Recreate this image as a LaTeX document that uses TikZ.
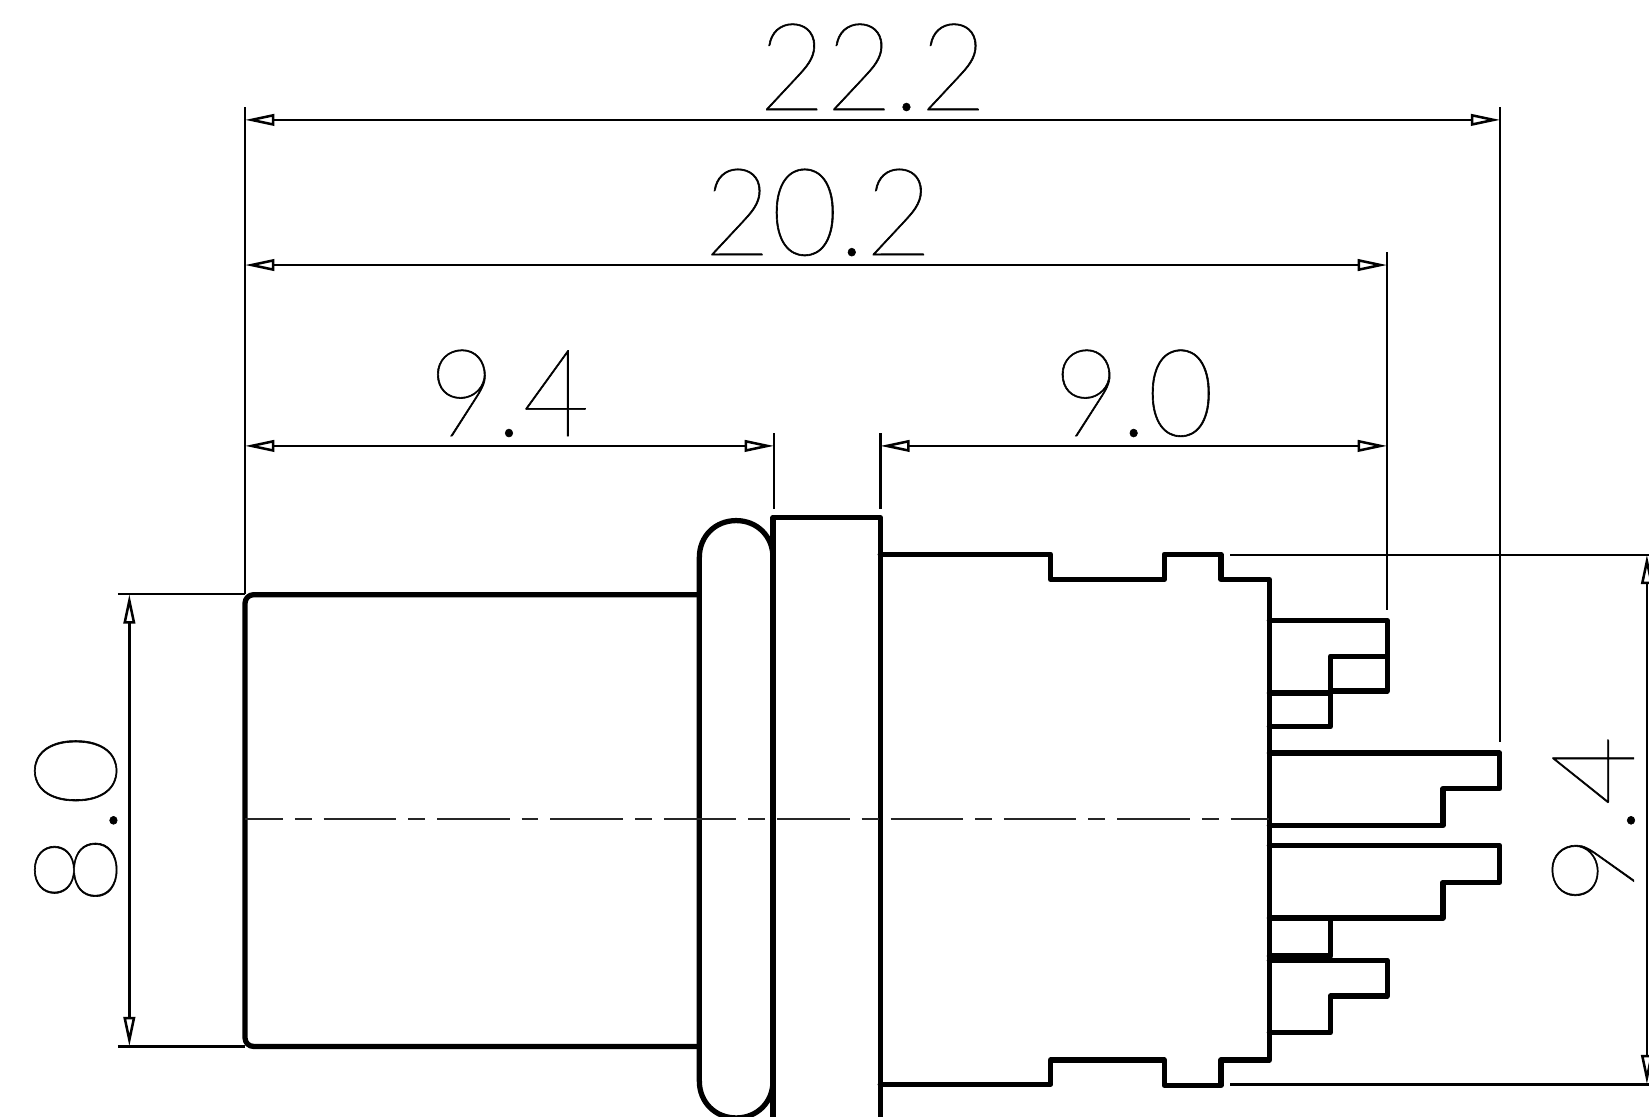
\documentclass[tikz,border=0pt]{standalone}
\usepackage{fontspec}
\setmainfont{Lato}[UprightFont=* Hairline,UprightFeatures={FakeBold=0.5}]
\usetikzlibrary{arrows.meta}
\tikzset{
  part/.style={line width=5pt,line join=round,line cap=round},
  thinln/.style={line width=2.4pt},
  center line/.style={line width=1.7pt,black!85,dash pattern=on 69pt off 11.4pt on 16pt off 11.4pt,dash phase=33pt},
  dim/.style={line width=2.4pt,{Triangle[open,length=28pt,width=11pt]}-{Triangle[open,length=28pt,width=11pt]}},
  dimtext/.style={inner sep=0pt,transform shape,xscale=.95,font=\fontsize{116}{116}\selectfont}
}
\begin{document}
\begin{tikzpicture}[x=1pt,y=-1pt]
\useasboundingbox (0,0) rectangle (1568,1061.2);
% extension points
\coordinate (L22) at (233,114); \coordinate (R22) at (1426.5,114);
\coordinate (L20) at (233,252); \coordinate (R20) at (1319,252);
\coordinate (L94) at (233,424); \coordinate (R94) at (736,424);
\coordinate (L90) at (837,424); \coordinate (R90) at (1319,424);
\coordinate (T80) at (123,565); \coordinate (B80) at (123,995);
\coordinate (T94) at (1566,527.5); \coordinate (B94) at (1566,1031);
% body
\draw[part,rounded corners=8pt] (665,565.5) -- (233,565.5) -- (233,995) -- (665,995);
\draw[part] (665,1028) -- (665,530) .. controls (665,510) and (680,495) .. (700,495)
  .. controls (720,495) and (735,510) .. (735,530) -- (735,1028)
  .. controls (735,1048) and (720,1063) .. (700,1063)
  .. controls (680,1063) and (665,1048) .. (665,1028);
\draw[part] (735,1063) -- (735,492) -- (837,492) -- (837,1063);
\draw[part] (837,527) -- (999,527) -- (999,551) -- (1107,551) -- (1107,527) -- (1161,527)
  -- (1161,551) -- (1207,551) -- (1207,1008) -- (1161,1008) -- (1161,1032) -- (1107,1032)
  -- (1107,1008) -- (999,1008) -- (999,1031) -- (837,1031);
% pins
\draw[part] (1207,590) -- (1319,590) -- (1319,657) -- (1265,657);
\draw[part] (1319,624) -- (1265,624) -- (1265,691) -- (1207,691);
\draw[part] (1207,659) -- (1265,659);
\draw[part] (1207,716) -- (1426,716) -- (1426,750) -- (1372,750) -- (1372,785) -- (1207,785);
\draw[part] (1207,804) -- (1426,804) -- (1426,839) -- (1372,839) -- (1372,873) -- (1207,873);
\draw[part] (1265,873) -- (1265,909) -- (1207,909);
\draw[part] (1207,913) -- (1319,913) -- (1319,947) -- (1265,947) -- (1265,982) -- (1207,982);
% centre line
\draw[center line] (233,779) -- (1207,779);
% extension lines
\draw[thinln] (233,102) -- (233,565);
\draw[thinln] (1426.5,102) -- (1426.5,706);
\draw[thinln] (1319,240) -- (1319,580);
\draw[thinln] (736,412) -- (736,484);
\draw[thinln] (837,412) -- (837,484);
\draw[thinln] (112,565) -- (233,565);
\draw[thinln] (112,995) -- (233,995);
\draw[thinln] (1170,527.5) -- (1568,527.5);
\draw[thinln] (1170,1031) -- (1568,1031);
% dimensions
\draw[dim] (L22) -- (R22);
\draw[dim] (L20) -- (R20);
\draw[dim] (L94) -- (R94);
\draw[dim] (L90) -- (R90);
\draw[dim] (T80) -- (B80);
\draw[dim] (T94) -- (B94);
% labels
\node[dimtext] (t222) at (830,64) {22.2};
\node[dimtext] (t202) at (778,202) {20.2};
\node[dimtext] (t94a) at (484,374) {9.4};
\node[dimtext] (t90) at (1078,374) {9.0};
\node[dimtext,rotate=90] (t80) at (72,780) {8.0};
\node[dimtext,rotate=90] (t94b) at (1515,780) {9.4};
\end{tikzpicture}
\end{document}
